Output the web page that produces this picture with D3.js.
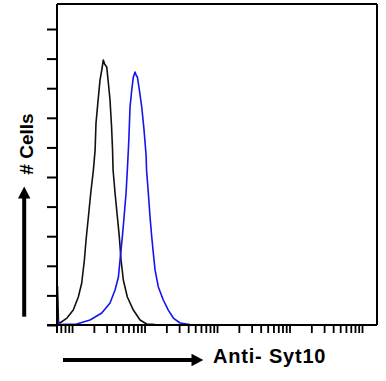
<!DOCTYPE html>
<html>
<head>
<meta charset="utf-8">
<script src="https://cdn.jsdelivr.net/npm/d3@7"></script>
<style>
  html, body { margin: 0; padding: 0; background: #fff; }
  svg { display: block; }
</style>
</head>
<body>
<svg id="chart" width="386" height="381"></svg>
<script>
// ---- data (fluorescence intensity on log axis, cell counts) ----
const controlX = [6.3, 6.5, 6.8, 8.5, 10.4, 12.2, 13.6, 14.8, 15.6, 16.8, 18.1, 19.7, 20.8, 21.4, 23.1, 24.3, 25.7, 27.0, 28.1, 30.1, 31.7, 33.4, 35.1, 36.2, 36.8, 39.2, 42.2, 44.9, 47.4, 51.0, 57.9, 70.1, 86.7, 107, 140];
const controlY = [26.4, 2.0, 1.35, 4.7, 10.1, 18.9, 28.4, 43.9, 57.4, 73.0, 89.2, 104.7, 118.2, 136.5, 154.1, 165.5, 172.3, 179.1, 176.4, 174.3, 163.5, 152.0, 133.8, 118.2, 104.7, 89.2, 73.0, 59.5, 43.9, 30.4, 18.9, 10.1, 3.4, 0.7, 0.3];
const antibodyX = [6.3, 6.6, 6.8, 11.6, 17.7, 25.7, 33.4, 39.2, 43.6, 45.9, 49.4, 52.2, 55.6, 57.9, 59.8, 60.7, 63.1, 66.6, 70.1, 74.0, 76.4, 79.6, 84.8, 91.5, 98.4, 105, 106.6, 112.8, 119.1, 125.7, 132.2, 139.6, 155, 181.5, 212.8, 249.5, 309, 424];
const antibodyY = [3.4, 0.7, 0.3, 0.7, 3.4, 8.1, 14.9, 23.6, 32.4, 43.9, 59.5, 73.0, 89.2, 104.7, 118.2, 125.0, 147.3, 158.8, 167.6, 170.9, 168.9, 167.6, 158.8, 147.3, 131.8, 114.9, 104.7, 89.2, 73.0, 59.5, 48.6, 37.2, 25.7, 16.9, 10.1, 4.7, 1.35, 0.3];
const yTickValues = [0, 20, 40, 60, 80, 100, 120, 140, 160, 180, 200];
const xLabel = "Anti- Syt10";
const yLabel = "# Cells";

// ---- layout ----
const L = 57, R = 377, T = 4, B = 325;
const svg = d3.select("#chart");

const x = d3.scaleLog().domain([6.2, 161000]).range([L, R]);
const y = d3.scaleLinear().domain([0, 216.9]).range([B, T]);

// y ticks
const yAxis = svg.append("g")
  .attr("transform", `translate(${L},0)`)
  .call(d3.axisLeft(y).tickValues(yTickValues).tickSize(10).tickFormat(""));
yAxis.select(".domain").remove();
yAxis.selectAll(".tick line").attr("stroke", "#000").attr("stroke-width", 2);

// x ticks (log minor/major)
const xAxis = svg.append("g")
  .attr("transform", `translate(0,${B})`)
  .call(d3.axisBottom(x).ticks(10).tickSize(8).tickFormat(""));
xAxis.select(".domain").remove();
xAxis.selectAll(".tick line").attr("stroke", "#000").attr("stroke-width", 1.8);

// curves
const line = d3.line().x(d => x(d[0])).y(d => y(d[1]));
svg.append("path")
  .datum(controlX.map((v, i) => [v, controlY[i]]))
  .attr("d", line).attr("fill", "none")
  .attr("stroke", "#111").attr("stroke-width", 1.6).attr("stroke-linejoin", "round");
svg.append("path")
  .datum(antibodyX.map((v, i) => [v, antibodyY[i]]))
  .attr("d", line).attr("fill", "none")
  .attr("stroke", "#1414f0").attr("stroke-width", 1.6).attr("stroke-linejoin", "round");

// frame
const frame = svg.append("g").attr("stroke", "#000").attr("stroke-width", 2).attr("fill", "none");
frame.append("line").attr("x1", L).attr("x2", L).attr("y1", T).attr("y2", B + 8);
frame.append("line").attr("x1", L - 10).attr("x2", R).attr("y1", B).attr("y2", B);
frame.append("line").attr("x1", L).attr("x2", R).attr("y1", T).attr("y2", T);
frame.append("line").attr("x1", R).attr("x2", R).attr("y1", T).attr("y2", B);

// y arrow
svg.append("rect").attr("x", 22.2).attr("y", 196).attr("width", 4).attr("height", 120.7).attr("fill", "#000");
svg.append("path").attr("d", "M24.2,186.5 L30.4,198.5 L18,198.5 Z").attr("fill", "#000");
// x arrow
svg.append("rect").attr("x", 63).attr("y", 358).attr("width", 130).attr("height", 4).attr("fill", "#000");
svg.append("path").attr("d", "M203.3,360 L191.5,366.3 L191.5,353.7 Z").attr("fill", "#000");

// labels
svg.append("text")
  .attr("transform", "translate(33.3,144) rotate(-90)")
  .attr("text-anchor", "middle")
  .style("font-family", "'Liberation Sans', Arial, sans-serif")
  .style("font-weight", "bold").style("font-size", "19px")
  .text(yLabel);
svg.append("text")
  .attr("x", 213).attr("y", 362.7)
  .style("font-family", "'Liberation Sans', Arial, sans-serif")
  .style("font-weight", "bold").style("font-size", "20px")
  .style("letter-spacing", "0.8px")
  .text(xLabel);
</script>
</body>
</html>
